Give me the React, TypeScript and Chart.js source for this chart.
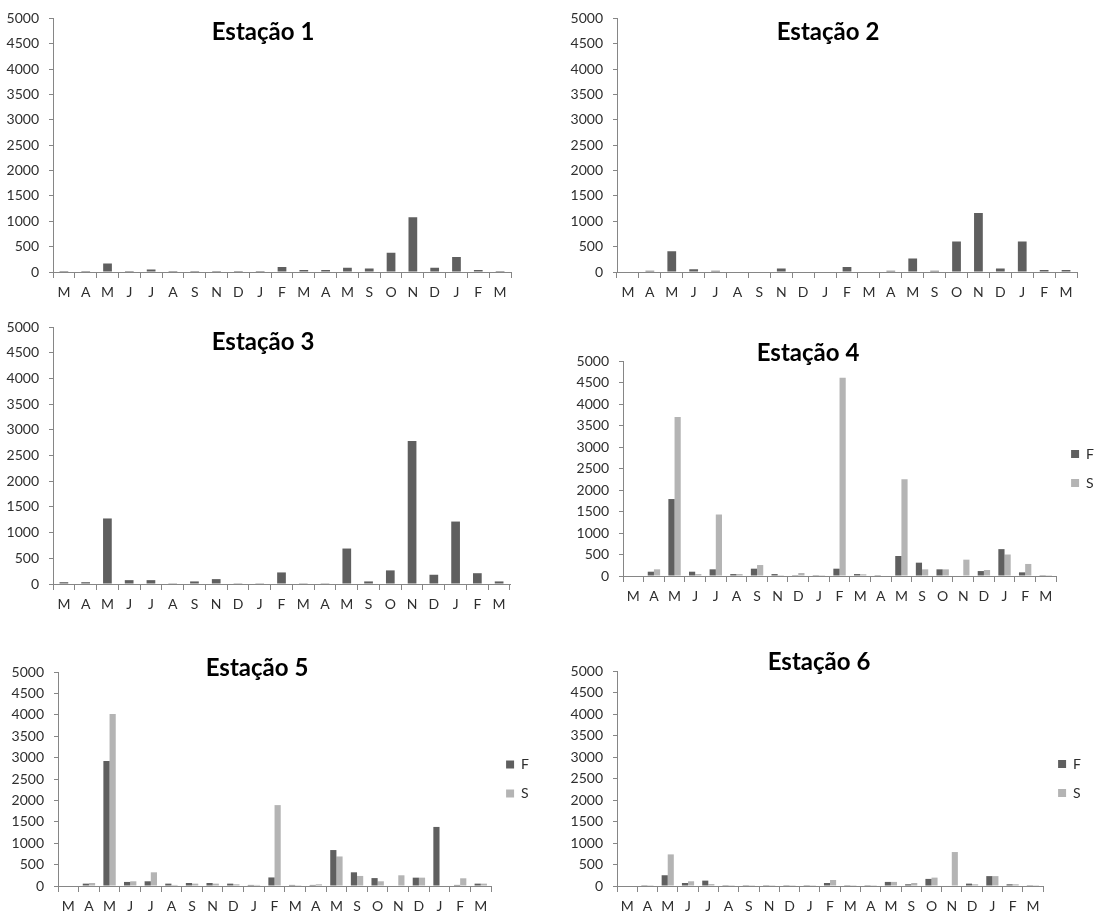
import React, { useEffect, useRef } from "react";
import { Chart, registerables } from "chart.js";

Chart.register(...registerables);

// ---------- DATA ----------
const months = ["M", "A", "M", "J", "J", "A", "S", "N", "D", "J", "F", "M", "A", "M", "S", "O", "N", "D", "J", "F", "M"];

const est1F = [20, 20, 170, 20, 50, 20, 20, 20, 20, 20, 100, 40, 40, 85, 70, 380, 1080, 85, 295, 40, 20];
const est2F = [0, 25, 410, 55, 25, 0, 0, 70, 0, 0, 100, 0, 25, 265, 25, 600, 1165, 70, 600, 40, 40];
const est3F = [35, 35, 1275, 75, 75, 15, 50, 95, 15, 15, 225, 15, 15, 690, 50, 265, 2780, 180, 1215, 210, 50];
const est4F = [0, 100, 1790, 100, 155, 45, 170, 45, 20, 20, 170, 45, 20, 465, 310, 155, 0, 115, 625, 85, 20];
const est4S = [0, 155, 3700, 45, 1430, 45, 255, 20, 70, 20, 4610, 40, 0, 2250, 155, 155, 380, 140, 500, 280, 20];
const est5F = [0, 55, 2920, 95, 110, 55, 70, 70, 55, 25, 200, 25, 25, 840, 320, 185, 0, 195, 1380, 25, 55];
const est5S = [0, 70, 4020, 110, 320, 25, 55, 55, 40, 25, 1890, 20, 40, 690, 235, 110, 250, 195, 0, 180, 55];
const est6F = [0, 20, 250, 70, 125, 20, 20, 20, 20, 20, 70, 20, 20, 95, 40, 165, 0, 55, 230, 40, 20];
const est6S = [0, 20, 735, 110, 45, 20, 20, 20, 20, 20, 140, 20, 20, 95, 70, 195, 790, 40, 230, 40, 20];

const titles = ["Estação 1", "Estação 2", "Estação 3", "Estação 4", "Estação 5", "Estação 6"];
const seriesNames = ["F", "S"];

// ---------- STYLE ----------
const COLOR_F = "#5f5f5f";
const COLOR_S = "#b4b4b4";
const AXIS = "#868686";
const TEXT = "#2e2e2e";
const FONT = "Lato, 'Open Sans', sans-serif";

type Box = { x: number; y: number; w: number; h: number };
type Plot = { l: number; t: number; r: number; b: number };
type PanelDef = {
  title: string;
  series: { label: string; data: number[]; color: string }[];
  box: Box;
  plot: Plot;
  titlePos: { x: number; y: number };
  legend: boolean;
  legendW: number;
};

const Y_AXIS_W = 50;
const X_AXIS_H = 30;

const panels: PanelDef[] = [
  {
    title: titles[0],
    series: [{ label: seriesNames[0], data: est1F, color: COLOR_F }],
    box: { x: 0, y: 0, w: 560, h: 304 },
    plot: { l: 53, t: 17, r: 511, b: 272 },
    titlePos: { x: 263, y: 31 },
    legend: false,
    legendW: 0,
  },
  {
    title: titles[1],
    series: [{ label: seriesNames[0], data: est2F, color: COLOR_F }],
    box: { x: 560, y: 0, w: 559, h: 304 },
    plot: { l: 617, t: 17, r: 1077, b: 272 },
    titlePos: { x: 828, y: 31 },
    legend: false,
    legendW: 0,
  },
  {
    title: titles[2],
    series: [{ label: seriesNames[0], data: est3F, color: COLOR_F }],
    box: { x: 0, y: 300, w: 560, h: 316 },
    plot: { l: 53, t: 327, r: 510, b: 584 },
    titlePos: { x: 263, y: 341 },
    legend: false,
    legendW: 0,
  },
  {
    title: titles[3],
    series: [
      { label: seriesNames[0], data: est4F, color: COLOR_F },
      { label: seriesNames[1], data: est4S, color: COLOR_S },
    ],
    box: { x: 560, y: 300, w: 559, h: 310 },
    plot: { l: 623, t: 361, r: 1057, b: 576 },
    titlePos: { x: 808, y: 352 },
    legend: true,
    legendW: 47,
  },
  {
    title: titles[4],
    series: [
      { label: seriesNames[0], data: est5F, color: COLOR_F },
      { label: seriesNames[1], data: est5S, color: COLOR_S },
    ],
    box: { x: 0, y: 610, w: 560, h: 306 },
    plot: { l: 58, t: 672, r: 492, b: 886 },
    titlePos: { x: 257, y: 667 },
    legend: true,
    legendW: 47,
  },
  {
    title: titles[5],
    series: [
      { label: seriesNames[0], data: est6F, color: COLOR_F },
      { label: seriesNames[1], data: est6S, color: COLOR_S },
    ],
    box: { x: 560, y: 610, w: 559, h: 306 },
    plot: { l: 617, t: 671, r: 1044, b: 886 },
    titlePos: { x: 819, y: 661 },
    legend: true,
    legendW: 47,
  },
];

function Panel({ p }: { p: PanelDef }) {
  const ref = useRef<HTMLCanvasElement | null>(null);
  useEffect(() => {
    if (!ref.current) return;
    const multi = p.series.length > 1;
    const pad = {
      left: p.plot.l - p.box.x - Y_AXIS_W,
      top: p.plot.t - p.box.y,
      right: p.box.x + p.box.w - p.plot.r - p.legendW,
      bottom: Math.max(0, p.box.y + p.box.h - p.plot.b - X_AXIS_H),
    };
    const chart = new Chart(ref.current, {
      type: "bar",
      data: {
        labels: months,
        datasets: p.series.map((s) => ({
          label: s.label,
          data: s.data,
          backgroundColor: s.color,
          borderWidth: 0,
          categoryPercentage: multi ? 0.6 : 1,
          barPercentage: multi ? 1 : 0.4,
        })),
      },
      options: {
        animation: false,
        responsive: false,
        devicePixelRatio: 1,
        layout: { padding: pad },
        plugins: {
          title: { display: false },
          tooltip: { enabled: false },
          legend: {
            display: p.legend,
            position: "right",
            align: "center",
            fullSize: false,
            labels: {
              boxWidth: 8,
              boxHeight: 8,
              padding: 15,
              color: TEXT,
              font: { family: FONT, size: 14 },
            },
          },
        },
        scales: {
          x: {
            grid: {
              offset: true,
              drawOnChartArea: false,
              drawTicks: true,
              tickLength: 6,
              color: AXIS,
            },
            border: { display: true, color: AXIS },
            ticks: {
              autoSkip: false,
              maxRotation: 0,
              minRotation: 0,
              padding: 6,
              color: TEXT,
              font: { family: FONT, size: 14 },
            },
            afterFit: (s: any) => {
              s.height = X_AXIS_H;
            },
          },
          y: {
            min: 0,
            max: 5000,
            grid: {
              drawOnChartArea: false,
              drawTicks: true,
              tickLength: 4,
              color: AXIS,
            },
            border: { display: true, color: AXIS },
            ticks: {
              stepSize: 500,
              padding: 10,
              color: TEXT,
              font: { family: FONT, size: 14 },
              callback: (v: any) => String(v),
            },
            afterFit: (s: any) => {
              s.width = Y_AXIS_W;
            },
          },
        },
      },
    } as any);
    return () => chart.destroy();
  }, [p]);

  return (
    <>
      <canvas
        ref={ref}
        width={p.box.w}
        height={p.box.h}
        style={{
          position: "absolute",
          left: p.box.x,
          top: p.box.y,
          width: p.box.w,
          height: p.box.h,
        }}
      />
      <div
        style={{
          position: "absolute",
          left: p.titlePos.x,
          top: p.titlePos.y,
          transform: "translate(-50%, -50%)",
          fontFamily: FONT,
          fontWeight: 700,
          fontSize: 24,
          lineHeight: "24px",
          color: "#000",
          whiteSpace: "nowrap",
          pointerEvents: "none",
        }}
      >
        {p.title}
      </div>
    </>
  );
}

export default function App() {
  return (
    <div
      style={{
        position: "fixed",
        left: 0,
        top: 0,
        width: 1119,
        height: 916,
        background: "#fff",
        overflow: "hidden",
      }}
    >
      {panels.map((p, i) => (
        <Panel key={i} p={p} />
      ))}
    </div>
  );
}
